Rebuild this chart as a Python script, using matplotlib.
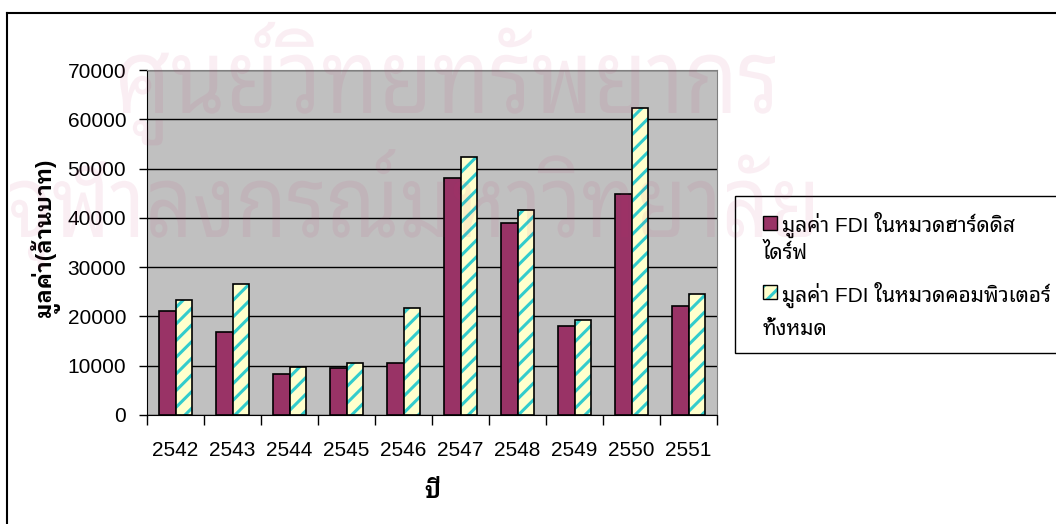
import numpy as np
import matplotlib
matplotlib.use("Agg")
import matplotlib.pyplot as plt
from matplotlib.patches import Rectangle, PathPatch
from matplotlib.lines import Line2D
from matplotlib.textpath import TextPath
from matplotlib.font_manager import FontProperties
from matplotlib.transforms import Affine2D, IdentityTransform

years = ['2542', '2543', '2544', '2545', '2546', '2547', '2548', '2549', '2550', '2551']
hdd_fdi = [21100, 16800, 8300, 9500, 10500, 48100, 39000, 18100, 44800, 22200]
computer_fdi = [23300, 26600, 9800, 10500, 21800, 52400, 41500, 19300, 62300, 24500]

hdd_label = ['มูลค่า FDI ในหมวดฮาร์ดดิส', 'ไดร์ฟ']
computer_label = ['มูลค่า FDI ในหมวดคอมพิวเตอร์', 'ทั้งหมด']

plt.rcParams['font.family'] = ['Liberation Sans', 'Noto Sans Thai Looped']
plt.rcParams['hatch.linewidth'] = 2.2
BOLD_FAMILY = ['Liberation Sans', 'IBM Plex Sans Thai Looped']

MAROON = '#993366'
CREAM = '#ffffcc'
TEAL = '#33cccc'

W, H = 1056, 524
fig = plt.figure(figsize=(W / 100, H / 100), dpi=100)


def fx(x):
    return x / W


def fy(y):
    return 1 - y / H


# outer chart frame (right and bottom run off the page)
fig.add_artist(Line2D([fx(7), fx(7)], [fy(13), -0.02], color='black', lw=1.5))
fig.add_artist(Line2D([fx(7), 1.02], [fy(13), fy(13)], color='black', lw=1.5))

ax = fig.add_axes([fx(147), fy(415), fx(717 - 147), (415 - 70) / H])
ax.set_facecolor('#c0c0c0')

x = np.arange(len(years))
w = 0.29
ax.bar(x - w / 2, hdd_fdi, w, color=MAROON, edgecolor='black', linewidth=1.2, zorder=3)
ax.bar(x + w / 2, computer_fdi, w, color=CREAM, edgecolor=TEAL, linewidth=0,
       hatch='//', zorder=3)
ax.bar(x + w / 2, computer_fdi, w, fill=False, edgecolor='black', linewidth=1.2, zorder=4)

ax.set_xlim(-0.5, len(years) - 0.5)
ax.set_ylim(0, 70000)
ax.set_yticks(np.arange(0, 70001, 10000))
ax.yaxis.grid(True, color='black', linewidth=1)
ax.set_axisbelow(True)

ax.set_xticks(np.arange(-0.5, len(years), 1))
ax.set_xticklabels([])
ax.set_xticks(x, minor=True)
ax.set_xticklabels(years, minor=True)
ax.tick_params(axis='x', which='major', length=7, width=1, direction='out')
ax.tick_params(axis='x', which='minor', length=0, pad=19, labelsize=15)
ax.tick_params(axis='y', length=6, width=1, pad=9, labelsize=15)

for side in ['top', 'right']:
    ax.spines[side].set_color('#808080')
for side in ['left', 'bottom']:
    ax.spines[side].set_color('black')

fig.text(fx(45), fy(238), 'มูลค่า(ล้านบาท)', rotation=90, ha='center', va='center',
         fontsize=16, fontweight='bold', family=BOLD_FAMILY)
fig.text(fx(432), fy(492), 'ปี', ha='center', va='center', fontsize=16,
         fontweight='bold', family=BOLD_FAMILY)

# legend box, drawn by hand so the text wraps under the key
fig.add_artist(Rectangle((fx(735), fy(353)), 1.05 - fx(735), (353 - 196) / H,
                         facecolor='white', edgecolor='black', lw=1, zorder=5))
fig.add_artist(Rectangle((fx(763), fy(230)), 14 / W, 14 / H, facecolor=MAROON,
                         edgecolor='black', lw=1, zorder=6))
fig.add_artist(Rectangle((fx(763), fy(299)), 14 / W, 14 / H, facecolor=CREAM,
                         edgecolor=TEAL, lw=0, hatch='//', zorder=6))
fig.add_artist(Rectangle((fx(763), fy(299)), 14 / W, 14 / H, fill=False,
                         edgecolor='black', lw=1, zorder=7))
fig.text(fx(782), fy(232), hdd_label[0], va='baseline', fontsize=15, zorder=7)
fig.text(fx(763), fy(259), hdd_label[1], va='baseline', fontsize=15, zorder=7)
fig.text(fx(782), fy(302), computer_label[0], va='baseline', fontsize=15, zorder=7)
fig.text(fx(763), fy(335), computer_label[1], va='baseline', fontsize=15, zorder=7)

# faint library stamp across the page
stamp_font = FontProperties(family='Noto Sans Thai Looped')
body_ref = TextPath((0, 0), 'น', size=1, prop=stamp_font).get_extents().y1


def stamp(text, x0, x1, baseline, body):
    path = TextPath((0, 0), text, size=1, prop=stamp_font)
    ext = path.get_extents()
    tr = (Affine2D().translate(-ext.x0, 0)
          .scale((x1 - x0) / ext.width, body / body_ref)
          .translate(x0, H - baseline))
    fig.add_artist(PathPatch(tr.transform_path(path), transform=IdentityTransform(),
                             facecolor='#c03070', edgecolor='none', alpha=0.08, zorder=10))


stamp('ศูนย์วิทยทรัพยากร', 120, 775, 113, 58)
stamp('จุฬาลงกรณ์มหาวิทยาลัย', 10, 813, 237, 56)

fig.savefig('out.png', dpi=100)
